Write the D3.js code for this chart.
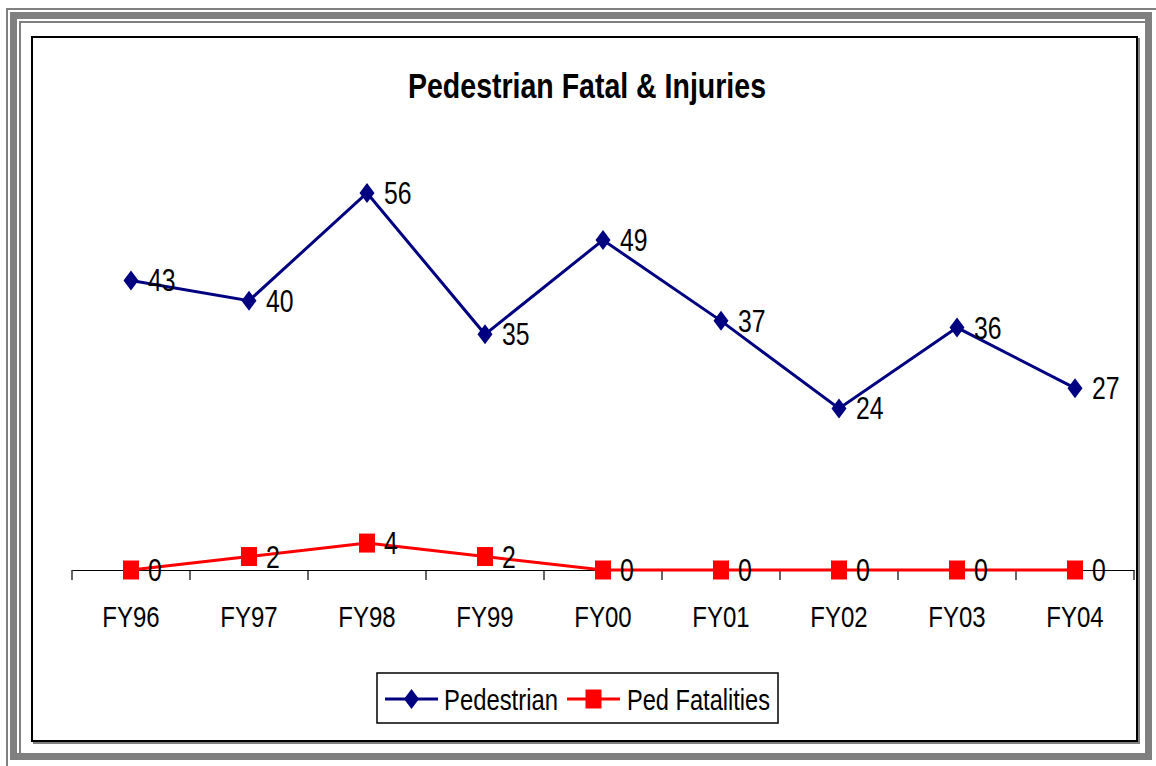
<!DOCTYPE html>
<html>
  <head>
    <title>Pedestrian Fatal &amp; Injuries</title>
    <script src="https://d3js.org/d3.v7.min.js"></script>
    <style>
      body { margin: 0; background: #fff; }
      svg text { font-family: "Liberation Sans", Arial, sans-serif; fill: #000; }
      .tick-label { font-size: 30px; }
      .data-label { font-size: 31px; }
      .legend-text { font-size: 30px; }
    </style>
  </head>
  <body>
    <div id="chart"></div>
    <script>
      // chart data
      const years = ["FY96", "FY97", "FY98", "FY99", "FY00", "FY01", "FY02", "FY03", "FY04"];
      const pedestrian = [43, 40, 56, 35, 49, 37, 24, 36, 27];
      const pedFatalities = [0, 2, 4, 2, 0, 0, 0, 0, 0];
      const yTicks = [0, 60];

      const W = 1156, H = 766;
      const plot = { left: 72, right: 1134, top: 166, bottom: 570 };

      const svg = d3.select("#chart").append("svg")
        .attr("width", W)
        .attr("height", H);

      // squeeze text horizontally, the original font is narrow
      function squeeze(sel, k) {
        sel.each(function () {
          const len = this.getComputedTextLength();
          d3.select(this)
            .attr("textLength", len * k)
            .attr("lengthAdjust", "spacingAndGlyphs");
        });
      }

      // outer gray frame
      const frame = svg.append("g").attr("fill", "none").attr("stroke", "#808080");
      frame.append("rect").attr("x", 7).attr("y", 9).attr("width", W).attr("height", H).attr("stroke-width", 2);
      frame.append("rect").attr("x", 13.5).attr("y", 15.5).attr("width", 1135).attr("height", 741).attr("stroke-width", 7);
      frame.append("rect").attr("x", 20).attr("y", 22).attr("width", 1128).attr("height", 735).attr("stroke-width", 2);

      // chart area box with shadow
      svg.append("rect").attr("x", 34).attr("y", 39).attr("width", 1105).attr("height", 704)
        .attr("fill", "none").attr("stroke", "#808080").attr("stroke-width", 2);
      svg.append("rect").attr("x", 32).attr("y", 37).attr("width", 1105).attr("height", 704)
        .attr("fill", "#fff").attr("stroke", "#000").attr("stroke-width", 2);

      // title
      svg.append("text")
        .attr("x", 587)
        .attr("y", 98)
        .attr("text-anchor", "middle")
        .attr("textLength", 358)
        .attr("lengthAdjust", "spacingAndGlyphs")
        .style("font-size", "35px")
        .style("font-weight", "bold")
        .text("Pedestrian Fatal & Injuries");

      // scales
      const x = d3.scaleBand().domain(years).range([plot.left, plot.right]);
      const y = d3.scaleLinear().domain([yTicks[0], yTicks[1]]).range([plot.bottom, plot.top]);
      const cx = d => x(d) + x.bandwidth() / 2;

      // x axis
      const xAxis = svg.append("g")
        .attr("transform", `translate(0, ${plot.bottom})`)
        .call(d3.axisBottom(x).tickSize(0).tickPadding(0).tickFormat(""));
      xAxis.select(".domain").attr("stroke", "#000").attr("stroke-width", 1.2);
      // tick marks at category boundaries
      const bounds = years.map(d => x(d)).concat([x(years[years.length - 1]) + x.bandwidth()]);
      svg.append("g").selectAll("line")
        .data(bounds)
        .join("line")
        .attr("x1", d => d).attr("x2", d => d)
        .attr("y1", plot.bottom).attr("y2", plot.bottom + 10)
        .attr("stroke", "#000").attr("stroke-width", 1.2);
      svg.append("g").selectAll("text")
        .data(years)
        .join("text")
        .attr("class", "tick-label")
        .attr("x", d => cx(d))
        .attr("y", 627)
        .attr("text-anchor", "middle")
        .text(d => d)
        .call(squeeze, 0.8);

      // series
      const series = [
        { name: "Pedestrian", values: pedestrian, color: "#000080", marker: "diamond" },
        { name: "Ped Fatalities", values: pedFatalities, color: "#ff0000", marker: "square" }
      ];

      const diamond = "M0,-10 L7.5,0 L0,10 L-7.5,0 Z";
      const square = "M-8,-9.5 L8,-9.5 L8,9.5 L-8,9.5 Z";

      const line = d3.line().x((d, i) => cx(years[i])).y(d => y(d));

      series.forEach(s => {
        const g = svg.append("g");
        g.append("path")
          .datum(s.values)
          .attr("fill", "none")
          .attr("stroke", s.color)
          .attr("stroke-width", 3)
          .attr("d", line);
        g.selectAll("path.marker")
          .data(s.values)
          .join("path")
          .attr("class", "marker")
          .attr("d", s.marker === "diamond" ? diamond : square)
          .attr("fill", s.color)
          .attr("transform", (d, i) => `translate(${cx(years[i])}, ${y(d)})`);
        g.selectAll("text")
          .data(s.values)
          .join("text")
          .attr("class", "data-label")
          .attr("x", (d, i) => cx(years[i]) + 17)
          .attr("y", d => y(d) + 11)
          .text(d => d)
          .call(squeeze, 0.8);
      });

      // legend
      const legend = svg.append("g");
      legend.append("rect")
        .attr("x", 377).attr("y", 673).attr("width", 401).attr("height", 50)
        .attr("fill", "#fff").attr("stroke", "#000").attr("stroke-width", 1.5);
      const legendItems = [
        { s: series[0], x0: 385, tx: 444, tw: 114 },
        { s: series[1], x0: 567, tx: 627, tw: 143 }
      ];
      legendItems.forEach(it => {
        const ly = 699;
        legend.append("line")
          .attr("x1", it.x0).attr("x2", it.x0 + 53)
          .attr("y1", ly).attr("y2", ly)
          .attr("stroke", it.s.color).attr("stroke-width", 3);
        legend.append("path")
          .attr("d", it.s.marker === "diamond" ? diamond : square)
          .attr("fill", it.s.color)
          .attr("transform", `translate(${it.x0 + 26.5}, ${ly})`);
        legend.append("text")
          .attr("class", "legend-text")
          .attr("x", it.tx)
          .attr("y", 710)
          .attr("textLength", it.tw)
          .attr("lengthAdjust", "spacingAndGlyphs")
          .text(it.s.name);
      });
    </script>
  </body>
</html>
